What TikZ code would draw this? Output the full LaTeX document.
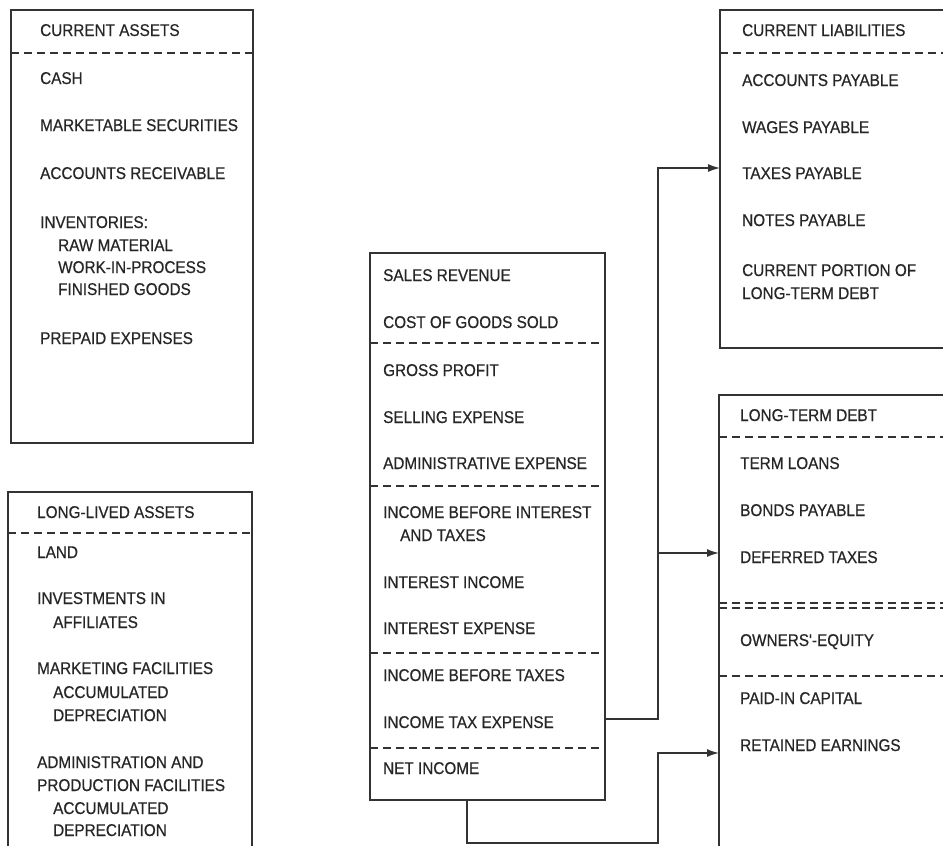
\documentclass[tikz,border=0pt]{standalone}
\usepackage{fontspec}
\usetikzlibrary{arrows.meta}
\newfontfamily\lblfont[FakeStretch=0.9,FakeBold=0.5]{Liberation Sans}
\definecolor{ink}{HTML}{262626}
\definecolor{rule}{HTML}{333333}
\begin{document}
\begin{tikzpicture}[x=1pt,y=-1pt,
  boxframe/.style={draw=rule,line width=1.4pt,inner sep=0pt,outer sep=0pt},
  sep/.style={draw=rule,line width=1.1pt,dash pattern=on 8pt off 5pt},
  lbl/.style={anchor=base west,inner sep=0pt,text=ink,font=\lblfont\fontsize{17}{17}\selectfont},
  link/.style={draw=rule,line width=1.4pt},
  tip/.style={-{Latex[length=12pt,width=8pt]}}]
\useasboundingbox (0,0) rectangle (943,846);
\fill[white] (0,0) rectangle (943,846);
\clip (0,0) rectangle (943,846);

% ---- current assets ----
\node[boxframe,minimum width=242pt,minimum height=433pt] (ca) at (132,226.5) {};
\draw[sep] (11,53) -- (253,53);
\node[lbl] (ca0) at (40,36) {CURRENT ASSETS};
\node[lbl] (ca1) at (40,84) {CASH};
\node[lbl] (ca2) at (40,131) {MARKETABLE SECURITIES};
\node[lbl] (ca3) at (40,179) {ACCOUNTS RECEIVABLE};
\node[lbl] (ca4) at (40,228) {INVENTORIES:};
\node[lbl] (ca5) at (58,251) {RAW MATERIAL};
\node[lbl] (ca6) at (58,273) {WORK-IN-PROCESS};
\node[lbl] (ca7) at (58,295) {FINISHED GOODS};
\node[lbl] (ca8) at (40,344) {PREPAID EXPENSES};

% ---- long-lived assets ----
\node[boxframe,minimum width=244pt,minimum height=400pt] (la) at (130,692) {};
\draw[sep] (8,533) -- (252,533);
\node[lbl] (la0) at (37,518) {LONG-LIVED ASSETS};
\node[lbl] (la1) at (37,558) {LAND};
\node[lbl] (la2) at (37,604) {INVESTMENTS IN};
\node[lbl] (la3) at (53,628) {AFFILIATES};
\node[lbl] (la4) at (37,674) {MARKETING FACILITIES};
\node[lbl] (la5) at (53,698) {ACCUMULATED};
\node[lbl] (la6) at (53,721) {DEPRECIATION};
\node[lbl] (la7) at (37,768) {ADMINISTRATION AND};
\node[lbl] (la8) at (37,791) {PRODUCTION FACILITIES};
\node[lbl] (la9) at (53,814) {ACCUMULATED};
\node[lbl] (la10) at (53,836) {DEPRECIATION};

% ---- income statement ----
\node[boxframe,minimum width=235pt,minimum height=547pt] (inc) at (487.5,526.5) {};
\draw[sep] (370,343) -- (605,343);
\draw[sep] (370,486) -- (605,486);
\draw[sep] (370,653) -- (605,653);
\draw[sep] (370,748) -- (605,748);
\node[lbl] (in1) at (383,281) {SALES REVENUE};
\node[lbl] (in2) at (383,328) {COST OF GOODS SOLD};
\node[lbl] (in3) at (383,376) {GROSS PROFIT};
\node[lbl] (in4) at (383,423) {SELLING EXPENSE};
\node[lbl] (in5) at (383,469) {ADMINISTRATIVE EXPENSE};
\node[lbl] (in6) at (383,518) {INCOME BEFORE INTEREST};
\node[lbl] (in7) at (400,541) {AND TAXES};
\node[lbl] (in8) at (383,588) {INTEREST INCOME};
\node[lbl] (in9) at (383,634) {INTEREST EXPENSE};
\node[lbl] (in10) at (383,681) {INCOME BEFORE TAXES};
\node[lbl] (in11) at (383,728) {INCOME TAX EXPENSE};
\node[lbl] (in12) at (383,774) {NET INCOME};

% ---- current liabilities ----
\node[boxframe,minimum width=260pt,minimum height=338pt] (cl) at (850,179) {};
\draw[sep] (720,53) -- (960,53);
\node[lbl] (cl0) at (742,36) {CURRENT LIABILITIES};
\node[lbl] (cl1) at (742,86) {ACCOUNTS PAYABLE};
\node[lbl] (cl2) at (742,133) {WAGES PAYABLE};
\node[lbl] (cl3) at (742,179) {TAXES PAYABLE};
\node[lbl] (cl4) at (742,226) {NOTES PAYABLE};
\node[lbl] (cl5) at (742,276) {CURRENT PORTION OF};
\node[lbl] (cl6) at (742,299) {LONG-TERM DEBT};

% ---- long-term debt and owners' equity ----
\node[boxframe,minimum width=260pt,minimum height=500pt] (ld) at (849,645) {};
\draw[sep] (719,437) -- (960,437);
\draw[sep] (719,603) -- (960,603);
\draw[sep] (719,608) -- (960,608);
\draw[sep] (719,676) -- (960,676);
\node[lbl] (ld0) at (740,421) {LONG-TERM DEBT};
\node[lbl] (ld1) at (740,469) {TERM LOANS};
\node[lbl] (ld2) at (740,516) {BONDS PAYABLE};
\node[lbl] (ld3) at (740,563) {DEFERRED TAXES};
\node[lbl] (oe0) at (740,646) {OWNERS'-EQUITY};
\node[lbl] (oe1) at (740,704) {PAID-IN CAPITAL};
\node[lbl] (oe2) at (740,751) {RETAINED EARNINGS};

% ---- connectors ----
\coordinate (taxout) at (605,719);
\coordinate (split) at (658,553);
\coordinate (niout) at (467,800);
\coordinate (nibase) at (467,843);
\draw[link,tip] (taxout) -| (658,168) -- (cl.west |- 0,168);
\draw[link,tip] (split) -- (ld.west |- split);
\draw[link,tip] (niout) -- (nibase) -| (658,753) -- (ld.west |- 0,753);
\end{tikzpicture}
\end{document}
